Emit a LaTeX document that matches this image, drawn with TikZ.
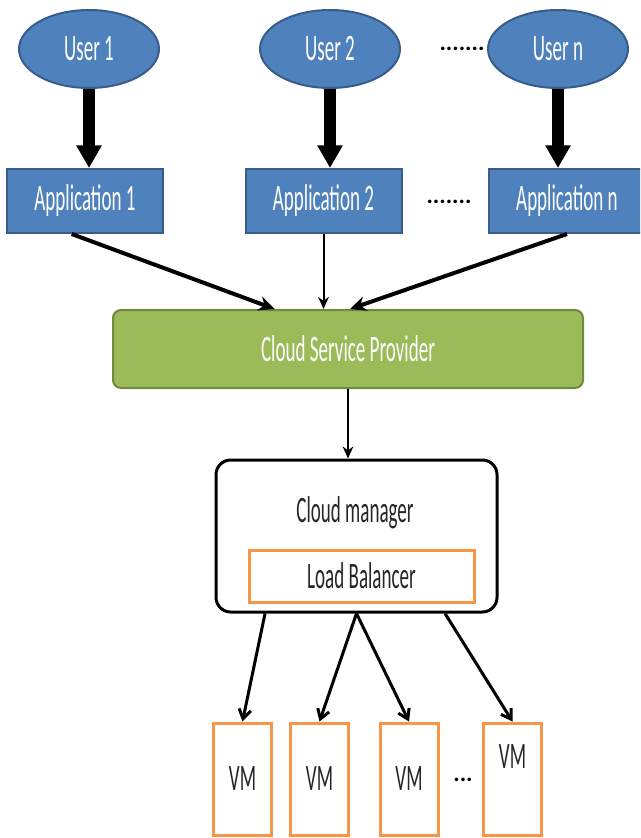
\documentclass[tikz,border=0pt]{standalone}
\usepackage{fontspec}
\newfontfamily\calibri[FakeStretch=0.51]{Carlito}
\newfontfamily\calibridots{Carlito}
\usepackage{tikz}
\usetikzlibrary{arrows.meta, positioning, shapes.geometric}
\definecolor{userblue}{RGB}{79,129,189}
\definecolor{userline}{RGB}{56,93,138}
\definecolor{cspgreen}{RGB}{155,187,89}
\definecolor{cspline}{RGB}{113,137,63}
\definecolor{vmorange}{RGB}{247,150,70}
\tikzset{
    every node/.style={font=\calibri\fontsize{28}{32}\selectfont,text=black!85},% same face everywhere
}

\begin{document}
\begin{tikzpicture}
    [x=0.75pt,y=-0.75pt,
    user/.style={ellipse,draw=userline,fill=userblue,line width=1.5pt,text=white,
        minimum width=105pt,minimum height=58.5pt},
    appbox/.style={rectangle,draw=userline,fill=userblue,line width=1.5pt,text=white,
        minimum width=117pt,minimum height=48pt},
    cspbox/.style={rectangle,rounded corners=6pt,draw=cspline,fill=cspgreen,line width=1.5pt,text=white,
        minimum width=352.5pt,minimum height=58.5pt},
    cmbox/.style={rectangle,rounded corners=11pt,draw=black,line width=2.25pt,
        minimum width=210.75pt,minimum height=114pt},
    lbbox/.style={rectangle,draw=vmorange,line width=2.25pt,minimum width=168.75pt,minimum height=39pt},
    vmbox/.style={rectangle,draw=vmorange,fill=white,line width=2.25pt,minimum width=43.5pt,minimum height=84pt},
    dots/.style={font=\calibridots\bfseries\fontsize{18}{20}\selectfont,text=black},
    bigarrow/.style={line width=9pt,-{Triangle[width=18pt,length=17pt]}},
    midarrow/.style={line width=3pt,-{Stealth[length=12pt,width=11pt]}},
    thinarrow/.style={line width=1.5pt,-{Stealth[length=9pt,width=8pt]}},
    vmarrow/.style={line width=2.25pt,-{Straight Barb[length=7pt,width=9pt]}}]
    \useasboundingbox (0,0) rectangle (640,838);
    \clip (0,0) rectangle (640,838);

    % users and their applications
    \node (user1) [user] at (89,49) {User 1};
    \node (user2) [user] at (330,49) {User 2};
    \node (usern) [user] at (558,49) {User n};
    \node (udots) [dots] at (462,49) {.......};
    \node (app1) [appbox] at (85,201) {Application 1};
    \node (app2) [appbox] at (323.5,201) {Application 2};
    \node (appn) [appbox] at (567,201) {Application n};
    \node (adots) [dots] at (449,202) {.......};
    \draw[bigarrow] (user1) -- (user1 |- app1.north);
    \draw[bigarrow] (user2) -- (user2 |- app2.north);
    \draw[bigarrow] (usern) -- (usern |- appn.north);

    % provider
    \node (csp) [cspbox] at (348,349) {Cloud Service Provider};
    \draw[midarrow] ([xshift=-10pt]app1.south) -- ([xshift=-55pt]csp.north);
    \draw[thinarrow] (app2.south) -- (app2.south |- csp.north);
    \draw[midarrow] (appn.south) -- ([xshift=1.5pt]csp.north);

    % manager
    \node (cm) [cmbox] at (356.5,536) {};
    \node (cmlabel) at (355,513) {Cloud manager};
    \node (lb) [lbbox] at (361.5,576) {Load Balancer};
    \draw[thinarrow] (csp.south) -- (csp.south |- cm.north);

    % virtual machines
    \node (vm1) [vmbox] at (242.5,779) {VM};
    \node (vm2) [vmbox] at (319.5,779) {VM};
    \node (vm3) [vmbox] at (409,779) {VM};
    \node (vm4) [vmbox,text depth=34pt] at (512.5,779) {VM};
    \node (vdots) [dots] at (463,780) {...};
    \draw[vmarrow] ([xshift=-68.6pt]cm.south) -- (vm1.north);
    \draw[vmarrow] (cm.south) -- (vm2.north);
    \draw[vmarrow] (cm.south) -- (vm3.north);
    \draw[vmarrow] ([xshift=66.4pt]cm.south) -- (vm4.north);
\end{tikzpicture}
\end{document}
